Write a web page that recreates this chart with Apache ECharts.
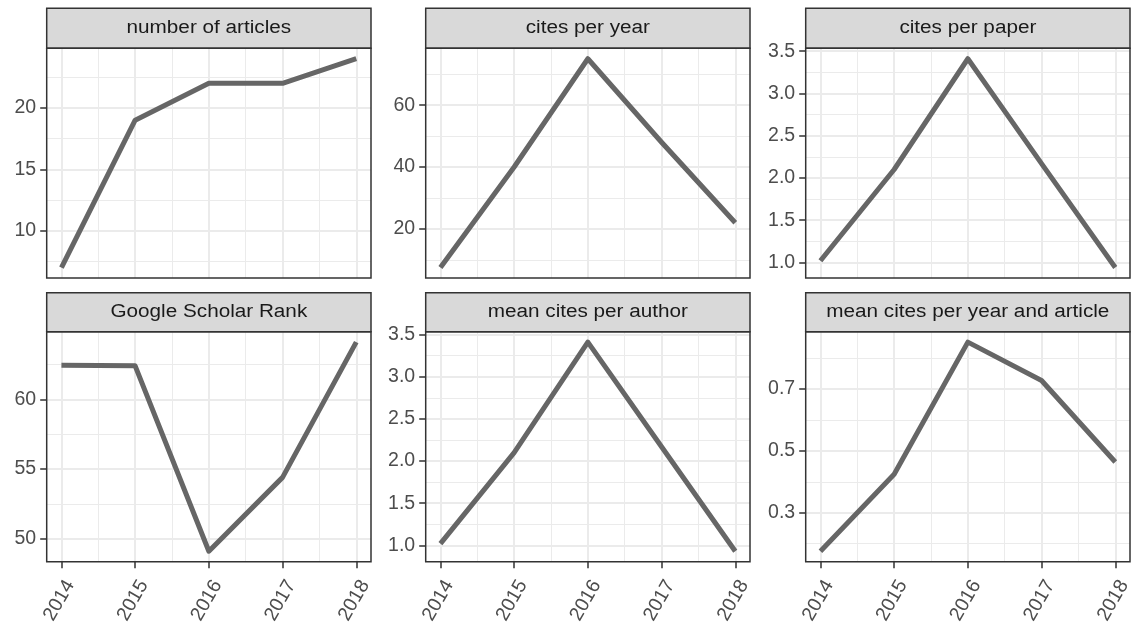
<!DOCTYPE html>
<html>
<head>
<meta charset="utf-8">
<script src="https://cdn.jsdelivr.net/npm/echarts@6/dist/echarts.min.js"></script>
<style>
html,body{margin:0;padding:0;background:#fff;}
#c{width:1132px;height:623px;}
</style>
</head>
<body>
<div id="c"></div>
<script>
// ---- data ----
var years = [2014, 2015, 2016, 2017, 2018];
var titles = ['number of articles', 'cites per year', 'cites per paper',
              'Google Scholar Rank', 'mean cites per author', 'mean cites per year and article'];
var numArticles = [7, 19, 22, 22, 24];
var citesPerYear = [7.5, 40, 75, 48, 22];
var citesPerPaper = [1.02, 2.1, 3.41, 2.17, 0.94];
var gsRank = [62.45, 62.4, 49.1, 54.4, 64.1];
var meanCitesPerAuthor = [1.02, 2.1, 3.41, 2.17, 0.93];
var meanCitesYearArticle = [0.175, 0.424, 0.852, 0.728, 0.464];

var yTicks1 = [10, 15, 20];            var yMinor1 = [7.5, 12.5, 17.5, 22.5];
var yTicks2 = [20, 40, 60];            var yMinor2 = [10, 30, 50, 70];
var yTicks3 = [1.0, 1.5, 2.0, 2.5, 3.0, 3.5]; var yMinor3 = [1.25, 1.75, 2.25, 2.75, 3.25];
var yTicks4 = [50, 55, 60];            var yMinor4 = [52.5, 57.5, 62.5];
var yTicks5 = [1.0, 1.5, 2.0, 2.5, 3.0, 3.5]; var yMinor5 = [1.25, 1.75, 2.25, 2.75, 3.25];
var yTicks6 = [0.3, 0.5, 0.7];         var yMinor6 = [0.2, 0.4, 0.6, 0.8];
var xMinor = [2014.5, 2015.5, 2016.5, 2017.5];

var panels = [
  {title: titles[0], values: numArticles, ticks: yTicks1, minor: yMinor1, dec: 0},
  {title: titles[1], values: citesPerYear, ticks: yTicks2, minor: yMinor2, dec: 0},
  {title: titles[2], values: citesPerPaper, ticks: yTicks3, minor: yMinor3, dec: 1},
  {title: titles[3], values: gsRank, ticks: yTicks4, minor: yMinor4, dec: 0},
  {title: titles[4], values: meanCitesPerAuthor, ticks: yTicks5, minor: yMinor5, dec: 1},
  {title: titles[5], values: meanCitesYearArticle, ticks: yTicks6, minor: yMinor6, dec: 1}
];

// ---- layout ----
var cols = [46.7, 425.7, 805.7];
var panelW = 324.3;
var rows = [{strip: 8.3, top: 48.3, h: 229.7}, {strip: 292.7, top: 331.7, h: 230}];
var FONT = 'Liberation Sans, Arial, Helvetica, sans-serif';
var FS_AXIS = 19.5, FS_STRIP = 18;

function expand(arr) {
  var mn = Math.min.apply(null, arr), mx = Math.max.apply(null, arr);
  var d = (mx - mn) * 0.05;
  return [mn - d, mx + d];
}
var xr = expand(years);

var grids = [], xAxes = [], yAxes = [], series = [], graphics = [];
panels.forEach(function (p, i) {
  var r = Math.floor(i / 3), c = i % 3;
  var L = rows[r], left = cols[c];
  grids.push({left: left, top: L.top, width: panelW, height: L.h, containLabel: false, outerBoundsMode: 'none'});
  var bottomRow = (r === 1);
  xAxes.push({
    type: 'value', gridIndex: i, min: xr[0], max: xr[1],
    axisLine: {show: false}, splitLine: {show: false}, minorTick: {show: false},
    axisTick: bottomRow ? {show: true, customValues: years, length: 6.5, lineStyle: {color: '#333333', width: 1.5}} : {show: false},
    axisLabel: bottomRow ? {show: true, customValues: years, rotate: 60, align: 'right', verticalAlign: 'top',
      margin: 15, color: '#4d4d4d', fontSize: FS_AXIS, fontFamily: FONT, formatter: function (v) { return String(v); }} : {show: false}
  });
  var yr = expand(p.values);
  yAxes.push({
    type: 'value', gridIndex: i, min: yr[0], max: yr[1],
    axisLine: {show: false}, splitLine: {show: false}, minorTick: {show: false},
    axisTick: {show: true, customValues: p.ticks, length: 6.5, lineStyle: {color: '#333333', width: 1.5}},
    axisLabel: {show: true, customValues: p.ticks, margin: 10.5, color: '#4d4d4d', fontSize: FS_AXIS, fontFamily: FONT,
      formatter: (function (dec) { return function (v) { return Number(v).toFixed(dec); }; })(p.dec)}
  });
  var ml = [];
  xMinor.forEach(function (v) { ml.push({xAxis: v, lineStyle: {color: '#ebebeb', width: 1, type: 'solid'}}); });
  p.minor.forEach(function (v) { ml.push({yAxis: v, lineStyle: {color: '#ebebeb', width: 1, type: 'solid'}}); });
  years.forEach(function (v) { ml.push({xAxis: v, lineStyle: {color: '#ebebeb', width: 2, type: 'solid'}}); });
  p.ticks.forEach(function (v) { ml.push({yAxis: v, lineStyle: {color: '#ebebeb', width: 2, type: 'solid'}}); });
  series.push({
    type: 'line', xAxisIndex: i, yAxisIndex: i, z: 3,
    data: years.map(function (y, k) { return [y, p.values[k]]; }),
    showSymbol: false, symbol: 'none', animation: false, silent: true,
    lineStyle: {color: '#666666', width: 5, cap: 'butt', join: 'round'},
    markLine: {silent: true, z: 1, symbol: ['none', 'none'], animation: false, label: {show: false},
      lineStyle: {type: 'solid', color: '#ebebeb'},
      emphasis: {disabled: true}, data: ml}
  });
  // strip
  graphics.push({type: 'rect', z: 100, silent: true,
    shape: {x: left, y: L.strip, width: panelW, height: L.top - L.strip},
    style: {fill: '#d9d9d9', stroke: '#333333', lineWidth: 1.5}});
  graphics.push({type: 'text', z: 101, silent: true,
    x: left + panelW / 2, y: (L.strip + L.top) / 2, scaleX: 1.15,
    style: {text: p.title, fill: '#1a1a1a', font: FS_STRIP + 'px ' + FONT, align: 'center', verticalAlign: 'middle'}});
  // panel border
  graphics.push({type: 'rect', z: 100, silent: true,
    shape: {x: left, y: L.top, width: panelW, height: L.h},
    style: {fill: 'none', stroke: '#333333', lineWidth: 1.5}});
});

var chart = echarts.init(document.getElementById('c'), null, {renderer: 'canvas'});
chart.setOption({
  animation: false,
  backgroundColor: '#ffffff',
  grid: grids, xAxis: xAxes, yAxis: yAxes, series: series, graphic: graphics
});
</script>
</body>
</html>
